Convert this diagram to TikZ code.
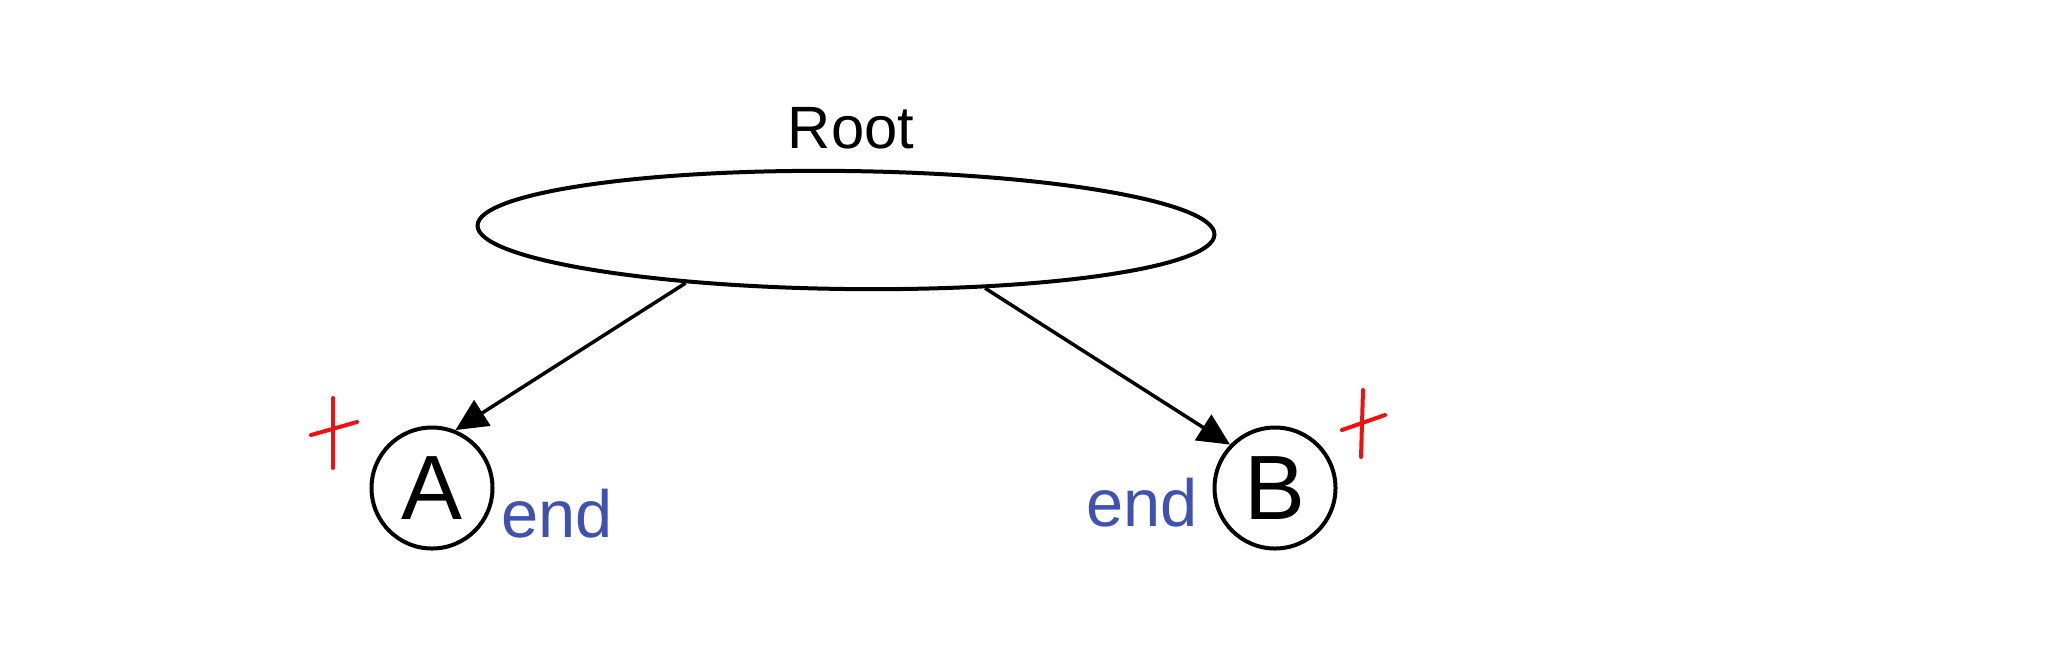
\documentclass[tikz,border=0pt]{standalone}
\usepackage{fontspec}
\setmainfont{Liberation Sans}
\usetikzlibrary{shapes.geometric,arrows.meta,positioning}
\definecolor{endblue}{HTML}{4052B0}
\definecolor{plusred}{HTML}{F01010}

\begin{document}
\begin{tikzpicture}[x=0.1mm,y=-0.1mm,
            treenode/.style={ellipse, draw, line width=0.4mm,
                    minimum width=73.7mm, minimum height=11.8mm},
            leaf/.style={circle, draw, line width=0.4mm, minimum size=12.1mm,
                    inner sep=0pt, font=\fontsize{26}{30}\selectfont},
            endtag/.style={text=endblue, font=\fontsize{19}{23}\selectfont},
            plusmark/.style={draw=plusred, line width=0.4mm, line cap=round},
            >={Triangle[length=3.2mm,width=3mm]},
            edge/.style={->, line width=0.35mm}]

        \useasboundingbox (0,0) rectangle (2048,645);

        \node[treenode, rotate=-0.7] (root) at (846,230) {};
        \node[font=\fontsize{17}{21}\selectfont] (rootlabel) at (851,128) {Root};

        \node[leaf] (A) at (432,488) {A};
        \node[leaf] (B) at (1275,488) {B};

        \node[endtag] (endA) at (557,514) {end};
        \node[endtag] (endB) at (1142,503) {end};

        \draw[edge] (root.199) -- (A.68);
        \draw[edge] (root.338) -- (B.136);

        % plus marks
        \coordinate (pA) at (333,432);
        \coordinate (pB) at (1362,423);
        \draw[plusmark] (pA) +(0,-34) -- +(0,36);
        \draw[plusmark] (pA) +(-22,3) -- +(24,-10);
        \draw[plusmark] (pB) +(1,-33) -- +(-1,34);
        \draw[plusmark] (pB) +(-20,7) -- +(23,-8);
    \end{tikzpicture}
\end{document}
